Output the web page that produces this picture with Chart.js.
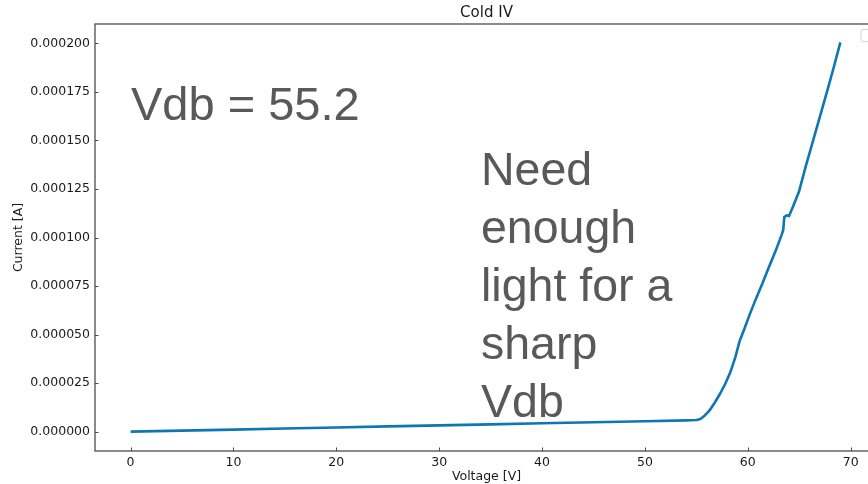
<!DOCTYPE html>
<html>
<head>
<meta charset="utf-8">
<script src="https://cdn.jsdelivr.net/npm/chart.js@4.4.1/dist/chart.umd.min.js"></script>
<style>
  html, body { margin: 0; padding: 0; background: #fff; overflow: hidden; }
  #wrap { position: relative; width: 868px; height: 484px; overflow: hidden; }
  #plot { position: absolute; left: 0; top: 0; }
  .note {
    position: absolute;
    font-family: "Liberation Sans", Arial, sans-serif;
    color: #595959;
    white-space: nowrap;
  }
  #vdb { left: 131px; top: 75px; font-size: 47px; line-height: 58px; }
  #light { left: 481px; top: 140px; font-size: 46.5px; line-height: 58px; }
</style>
</head>
<body>
<div id="wrap">
  <canvas id="plot" width="890" height="484"></canvas>
  <div class="note" id="vdb">Vdb = 55.2</div>
  <div class="note" id="light">Need<br>enough<br>light for a<br>sharp<br>Vdb</div>
</div>
<script>
var voltage = [0, 5, 10, 15, 20, 25, 30, 35, 40, 45, 50, 54, 55, 55.4, 55.8, 56.3, 56.8, 57.3, 57.8, 58.3,
    58.8, 59.2, 59.6, 60.2, 60.8, 61.4, 62.0, 62.7, 63.3, 63.45, 63.55, 63.8, 64.0, 64.4, 65.0, 65.6,
    66.3, 67.0, 67.8, 68.4, 69.0];
var current = [0, 0.5e-6, 1.0e-6, 1.6e-6, 2.1e-6, 2.7e-6, 3.2e-6, 3.7e-6, 4.3e-6, 4.8e-6, 5.3e-6, 5.8e-6,
    6.0e-6, 6.5e-6, 8.2e-6, 11.0e-6, 15.0e-6, 19.5e-6, 24.5e-6, 30.5e-6, 38.5e-6, 46.5e-6, 52.0e-6,
    60.5e-6, 68.5e-6, 76.0e-6, 84.0e-6, 93.0e-6, 101.5e-6, 104.0e-6, 110.5e-6, 111.5e-6, 111.0e-6,
    116.0e-6, 124.0e-6, 136.0e-6, 149.0e-6, 162.0e-6, 177.0e-6, 188.5e-6, 200.5e-6];
var xTicks = [0, 10, 20, 30, 40, 50, 60, 70];
var yTicks = [0, 0.000025, 0.00005, 0.000075, 0.0001, 0.000125, 0.00015, 0.000175, 0.0002];

var tickFont = { family: "'DejaVu Sans', sans-serif", size: 12.5 };
var axisColor = '#4d4d4d';

// box frame, inward tick marks and the empty legend frame
var frame = {
    id: 'frame',
    afterDatasetsDraw: function (chart) {
        var ctx = chart.ctx, a = chart.chartArea;
        var xs = chart.scales.x, ys = chart.scales.y;
        ctx.save();
        ctx.strokeStyle = axisColor;
        ctx.lineWidth = 1.3;
        ctx.strokeRect(a.left, a.top, a.right - a.left, a.bottom - a.top);
        ctx.lineWidth = 1;
        ctx.beginPath();
        xTicks.forEach(function (v) {
            var px = Math.round(xs.getPixelForValue(v)) + 0.5;
            ctx.moveTo(px, a.bottom);
            ctx.lineTo(px, a.bottom - 3.5);
        });
        yTicks.forEach(function (v) {
            var py = Math.round(ys.getPixelForValue(v)) + 0.5;
            ctx.moveTo(a.left, py);
            ctx.lineTo(a.left + 3.5, py);
        });
        ctx.stroke();
        // empty legend
        var lx = a.right - 17, ly = a.top + 5.5, lw = 11, lh = 12, r = 2;
        ctx.beginPath();
        ctx.moveTo(lx + r, ly);
        ctx.arcTo(lx + lw, ly, lx + lw, ly + lh, r);
        ctx.arcTo(lx + lw, ly + lh, lx, ly + lh, r);
        ctx.arcTo(lx, ly + lh, lx, ly, r);
        ctx.arcTo(lx, ly, lx + lw, ly, r);
        ctx.closePath();
        ctx.fillStyle = 'rgba(255,255,255,0.8)';
        ctx.fill();
        ctx.strokeStyle = '#d6d6d6';
        ctx.stroke();
        ctx.restore();
    }
};

var ctx = document.getElementById('plot').getContext('2d');
var chart = new Chart(ctx, {
    type: 'line',
    data: {
        datasets: [{
            data: voltage.map(function (v, i) { return { x: v, y: current[i] }; }),
            borderColor: '#0f76b6',
            borderWidth: 2.6,
            pointRadius: 0,
            tension: 0,
            fill: false,
            borderJoinStyle: 'round'
        }]
    },
    options: {
        responsive: false,
        animation: false,
        devicePixelRatio: 1,
        layout: { padding: { left: 0, right: 12, top: 0, bottom: 0 } },
        plugins: {
            legend: { display: false },
            tooltip: { enabled: false },
            title: {
                display: true,
                text: 'Cold IV',
                fullSize: false,
                color: '#1a1a1a',
                font: { family: "'DejaVu Sans', sans-serif", size: 15, weight: 'normal', lineHeight: 1.2 },
                padding: { top: 4, bottom: 2 }
            }
        },
        scales: {
            x: {
                type: 'linear',
                min: -3.46,
                max: 72.66,
                grid: { display: false, drawTicks: false },
                border: { display: false },
                afterBuildTicks: function (s) { s.ticks = xTicks.map(function (v) { return { value: v }; }); },
                afterFit: function (s) { s.height = 33; },
                ticks: {
                    color: '#1a1a1a',
                    font: tickFont,
                    padding: 4,
                    maxRotation: 0,
                    callback: function (v) { return String(v); }
                },
                title: {
                    display: true,
                    text: 'Voltage [V]',
                    color: '#1a1a1a',
                    font: tickFont,
                    padding: { top: 0, bottom: 0 }
                }
            },
            y: {
                min: -0.00001,
                max: 0.00021,
                grid: { display: false, drawTicks: false },
                border: { display: false },
                afterBuildTicks: function (s) { s.ticks = yTicks.map(function (v) { return { value: v }; }); },
                afterFit: function (s) { s.width = 95; },
                ticks: {
                    color: '#1a1a1a',
                    font: tickFont,
                    padding: 5,
                    callback: function (v) { return Number(v).toFixed(6); }
                },
                title: {
                    display: true,
                    text: 'Current [A]',
                    color: '#1a1a1a',
                    font: tickFont,
                    padding: { top: 11.5, bottom: 0 }
                }
            }
        }
    },
    plugins: [frame]
});
</script>
</body>
</html>
